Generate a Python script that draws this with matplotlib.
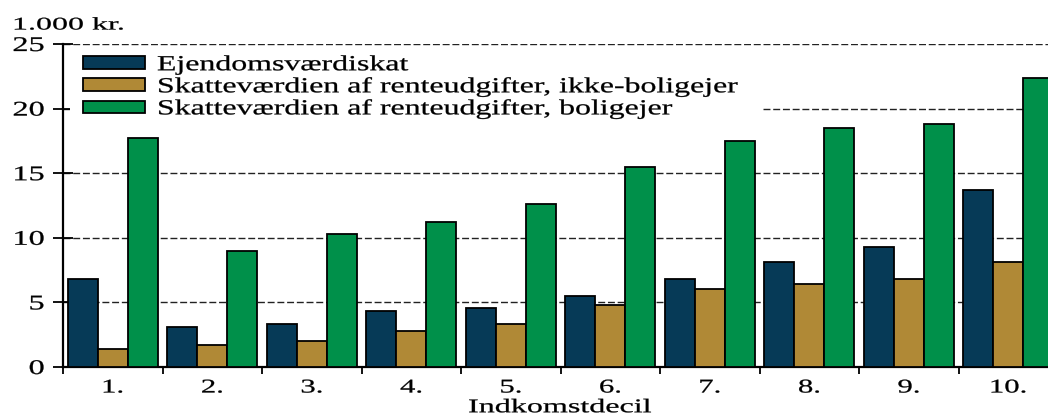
import matplotlib
matplotlib.use("Agg")
import matplotlib.pyplot as plt
from matplotlib.patheffects import AbstractPathEffect
from matplotlib.transforms import Affine2D
from matplotlib.patches import Rectangle
import numpy as np

categories = ["1.", "2.", "3.", "4.", "5.", "6.", "7.", "8.", "9.", "10."]
ejendom = [6.8, 3.1, 3.3, 4.3, 4.6, 5.5, 6.8, 8.1, 9.3, 13.7]
ikke_bolig = [1.4, 1.7, 2.0, 2.8, 3.3, 4.8, 6.0, 6.4, 6.8, 8.1]
bolig = [17.7, 9.0, 10.3, 11.2, 12.6, 15.5, 17.5, 18.5, 18.8, 22.4]
labels = ["Ejendomsværdiskat",
          "Skatteværdien af renteudgifter, ikke-boligejer",
          "Skatteværdien af renteudgifter, boligejer"]
colors = ["#063a57", "#b08936", "#00904a"]

plt.rcParams['font.family'] = ['Liberation Serif', 'DejaVu Serif']


class Stretch(AbstractPathEffect):
    """Horizontally widen text glyphs (reference text is wide)."""
    def __init__(self, sx, anchor="left", stroke=0.2):
        super().__init__()
        self.sx = sx
        self.anchor = anchor
        self.stroke = stroke

    def draw_path(self, renderer, gc, tpath, affine, rgbFace=None):
        ext = tpath.get_extents()
        if self.anchor == "left":
            ax0 = 0.0
        elif self.anchor == "right":
            ax0 = ext.x1
        else:
            ax0 = 0.5 * (ext.x0 + ext.x1)
        t = Affine2D().translate(-ax0, 0).scale(self.sx, 1).translate(ax0, 0)
        gc0 = renderer.new_gc()
        gc0.copy_properties(gc)
        if self.stroke and rgbFace is not None:
            gc0.set_linewidth(self.stroke)
            gc0.set_foreground(rgbFace)
        renderer.draw_path(gc0, tpath, t + affine, rgbFace)
        gc0.restore()


fig = plt.figure(figsize=(10.48, 4.18), dpi=100)
ax = fig.add_axes([63/1048, 51/418, 995/1048, 323/418])

x = np.arange(1, len(categories) + 1)
w = 0.3
for i, (vals, lab, c) in enumerate(zip([ejendom, ikke_bolig, bolig], labels, colors)):
    ax.bar(x + (i - 1) * w, vals, width=w, color=c, edgecolor="black",
           linewidth=1.3, label=lab, zorder=3)

ax.set_xlim(0.5, 10.5)
ax.set_ylim(0, 25)
ax.set_yticks([0, 5, 10, 15, 20, 25])
ax.yaxis.grid(True, linestyle=(0, (5, 2)), color="#222222", linewidth=1.0, zorder=0)
ax.set_axisbelow(True)

ax.set_xticks(np.arange(0.5, 11, 1))
ax.set_xticklabels([])
ax.set_xticks(x, minor=True)
ax.set_xticklabels(categories, minor=True, fontsize=14)
ax.tick_params(axis="x", which="minor", length=0, pad=9)
ax.tick_params(axis="x", which="major", direction="out", length=5, width=1.3)
ax.tick_params(axis="y", direction="inout", length=15, width=1.3, labelsize=15, pad=6)

for lab in ax.get_yticklabels():
    lab.set_path_effects([Stretch(1.55, "right")])
for lab in ax.get_xticklabels(minor=True):
    lab.set_path_effects([Stretch(1.58, "center")])

for s in ["top", "right"]:
    ax.spines[s].set_visible(False)
ax.spines["left"].set_linewidth(1.6)
ax.spines["bottom"].set_linewidth(1.6)

# white background behind legend (hides grid line at 20)
ax.add_patch(Rectangle((0.007, 0.755), 0.695, 0.22, transform=ax.transAxes,
                       facecolor="white", edgecolor="none", zorder=2))

leg = ax.legend(loc="upper left", bbox_to_anchor=(0.020, 0.962), fontsize=15.5,
                frameon=False, handlelength=2.88, handleheight=0.51,
                labelspacing=0.1, handletextpad=0.56, borderpad=0,
                borderaxespad=0)
leg.set_zorder(5)
for t in leg.get_texts():
    t.set_path_effects([Stretch(1.48, "left")])
for p in leg.get_patches():
    p.set_linewidth(1.3)

t1 = fig.text(12/1048, 1 - 25/418, "1.000 kr.", fontsize=12.8, va="center", ha="left")
t1.set_path_effects([Stretch(1.8, "left")])

xl = ax.set_xlabel("Indkomstdecil", fontsize=14, labelpad=2)
xl.set_path_effects([Stretch(1.65, "center")])

fig.savefig("out.png", dpi=100)
